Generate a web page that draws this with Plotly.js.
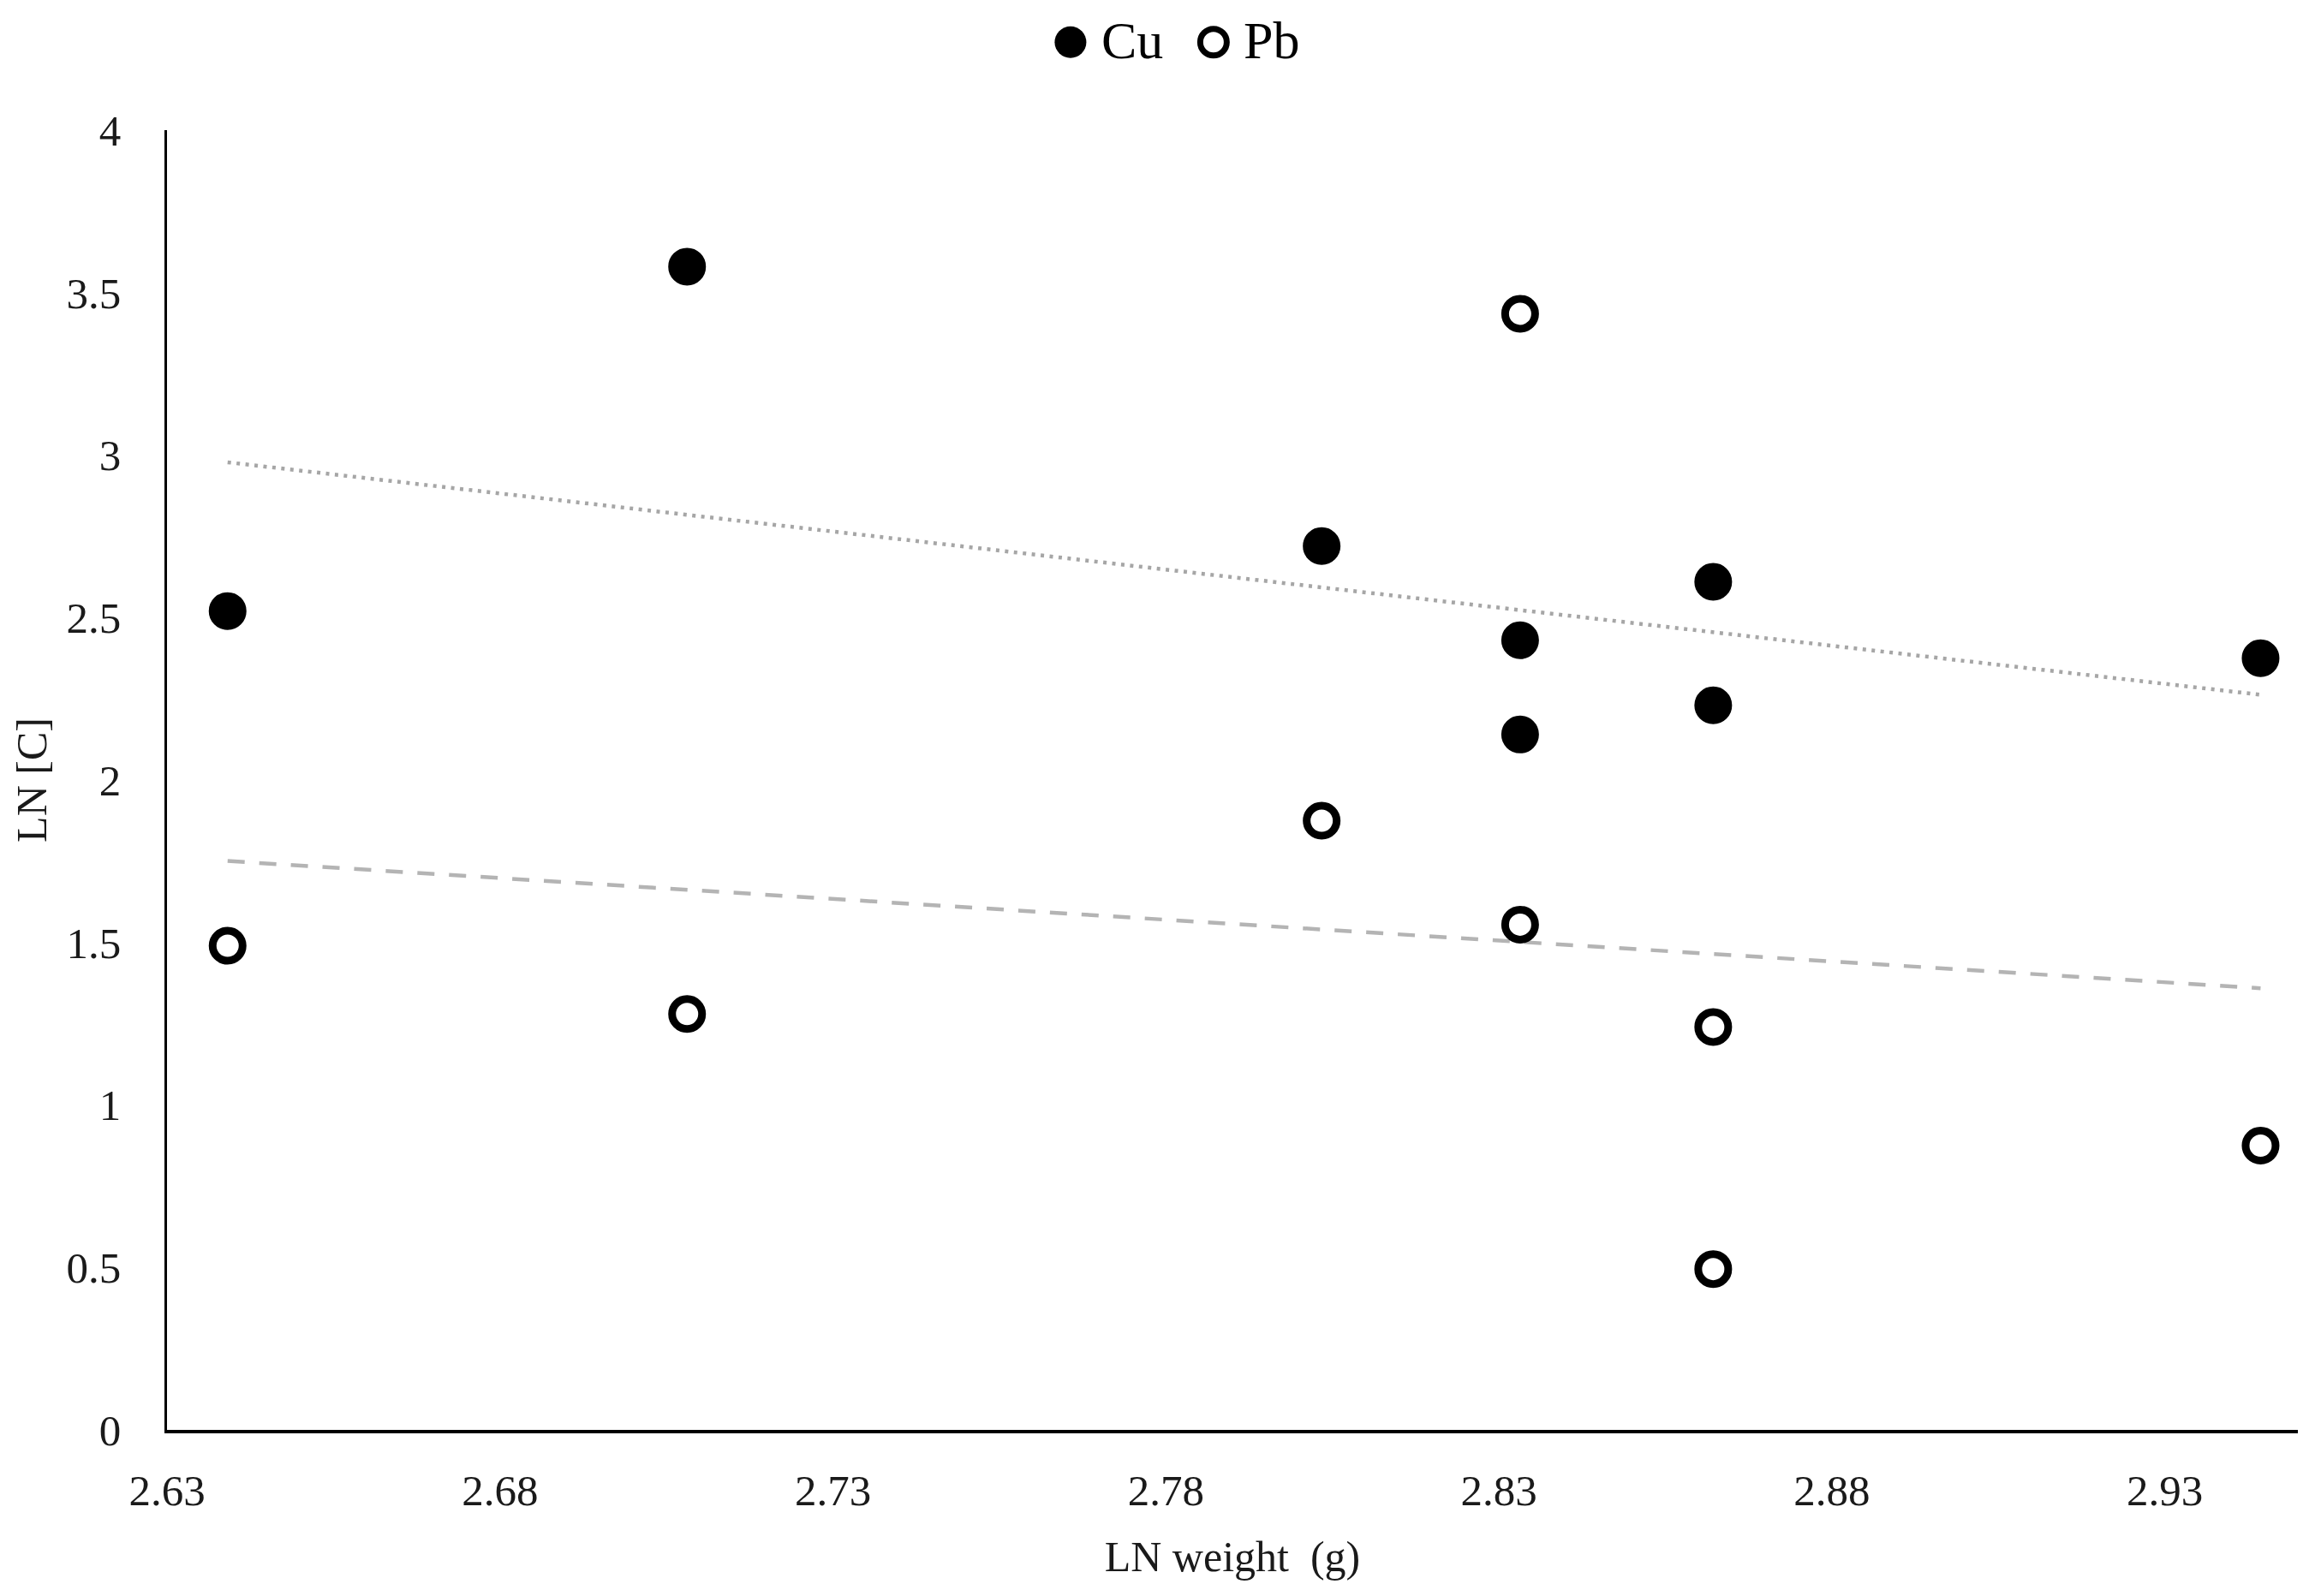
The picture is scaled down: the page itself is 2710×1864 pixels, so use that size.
<!DOCTYPE html>
<html>
<head>
<meta charset="utf-8">
<script src="https://cdn.plot.ly/plotly-3.0.1.min.js"></script>
<style>
  html, body { margin: 0; padding: 0; background: #fff; }
  #chart { width: 2710px; height: 1864px; }
</style>
</head>
<body>
<div id="chart"></div>
<script>
// LN weight (g) for each sample
const lnWeightCu = [2.6391, 2.7081, 2.8034, 2.8332, 2.8332, 2.8622, 2.8622, 2.9444];
const lnConcCu   = [2.52, 3.58, 2.72, 2.43, 2.14, 2.61, 2.23, 2.375];
const lnWeightPb = [2.6391, 2.7081, 2.8034, 2.8332, 2.8332, 2.8622, 2.8622, 2.9444];
const lnConcPb   = [1.49, 1.28, 1.875, 3.435, 1.555, 1.24, 0.495, 0.875];
const seriesNames = ['Cu', 'Pb'];
const xTickVals = [2.63, 2.68, 2.73, 2.78, 2.83, 2.88, 2.93];
const yTickVals = [0, 0.5, 1, 1.5, 2, 2.5, 3, 3.5, 4];

function linFit(xs, ys) {
  const n = xs.length;
  const mx = xs.reduce((a, b) => a + b, 0) / n;
  const my = ys.reduce((a, b) => a + b, 0) / n;
  let sxy = 0, sxx = 0;
  for (let i = 0; i < n; i++) { sxy += (xs[i] - mx) * (ys[i] - my); sxx += (xs[i] - mx) ** 2; }
  const b = sxy / sxx, a = my - b * mx;
  const x0 = Math.min(...xs), x1 = Math.max(...xs);
  return { x: [x0, x1], y: [a + b * x0, a + b * x1] };
}
const fitCu = linFit(lnWeightCu, lnConcCu);
const fitPb = linFit(lnWeightPb, lnConcPb);

const FONT = 'Liberation Serif, "Times New Roman", serif';

const traces = [
  { x: fitCu.x, y: fitCu.y, mode: 'lines', showlegend: false, hoverinfo: 'skip',
    line: { color: '#a6a6a6', width: 4.5, dash: '4px,6.5px' } },
  { x: fitPb.x, y: fitPb.y, mode: 'lines', showlegend: false, hoverinfo: 'skip',
    line: { color: '#b4b4b4', width: 4.5, dash: '20px,17px' } },
  { x: lnWeightCu, y: lnConcCu, name: seriesNames[0], mode: 'markers', type: 'scatter',
    marker: { symbol: 'circle', size: 36, color: '#000', line: { color: '#000', width: 8 } } },
  { x: lnWeightPb, y: lnConcPb, name: seriesNames[1], mode: 'markers', type: 'scatter',
    marker: { symbol: 'circle', size: 35, color: '#fff', line: { color: '#000', width: 9 } } }
];

const layout = {
  width: 2710, height: 1864,
  margin: { l: 195, r: 27, t: 152, b: 194, pad: 0 },
  paper_bgcolor: '#fff', plot_bgcolor: '#fff',
  showlegend: false,
  font: { family: FONT, size: 50, color: '#1a1a1a' },
  xaxis: {
    range: [2.63, 2.95], tickvals: xTickVals, ticktext: xTickVals.map(v => v.toFixed(2)),
    showgrid: false, zeroline: false, showline: true, linecolor: '#000', linewidth: 3.5,
    ticks: '', ticklabelstandoff: 23,
    tickfont: { family: FONT, size: 51, color: '#1a1a1a' },
    title: { text: 'LN weight  (g)', font: { family: FONT, size: 50, color: '#1a1a1a' }, standoff: 33 }
  },
  yaxis: {
    range: [0, 4], tickvals: yTickVals, ticktext: yTickVals.map(v => String(v)),
    showgrid: false, zeroline: false, showline: true, linecolor: '#000', linewidth: 3.5,
    ticks: '', ticklabelstandoff: 40, automargin: true,
    tickfont: { family: FONT, size: 51, color: '#1a1a1a' },
    title: { text: 'LN [C]', font: { family: FONT, size: 50, color: '#1a1a1a' }, standoff: 8 }
  },
  shapes: [
    { type: 'circle', xref: 'paper', yref: 'paper', xsizemode: 'pixel', ysizemode: 'pixel',
      xanchor: 0.4240, yanchor: 1.0677, x0: -18.5, x1: 18.5, y0: -18.5, y1: 18.5,
      fillcolor: '#000', line: { color: '#000', width: 0 } },
    { type: 'circle', xref: 'paper', yref: 'paper', xsizemode: 'pixel', ysizemode: 'pixel',
      xanchor: 0.4911, yanchor: 1.0677, x0: -15.5, x1: 15.5, y0: -15.5, y1: 15.5,
      fillcolor: '#fff', line: { color: '#000', width: 7 } }
  ],
  annotations: [
    { text: seriesNames[0], xref: 'paper', yref: 'paper', x: 0.4375, y: 1.0690,
      xanchor: 'left', yanchor: 'middle', showarrow: false,
      font: { family: FONT, size: 62, color: '#000' } },
    { text: seriesNames[1], xref: 'paper', yref: 'paper', x: 0.5046, y: 1.0690,
      xanchor: 'left', yanchor: 'middle', showarrow: false,
      font: { family: FONT, size: 62, color: '#000' } }
  ]
};

Plotly.newPlot('chart', traces, layout, { staticPlot: true, displayModeBar: false });
</script>
</body>
</html>
